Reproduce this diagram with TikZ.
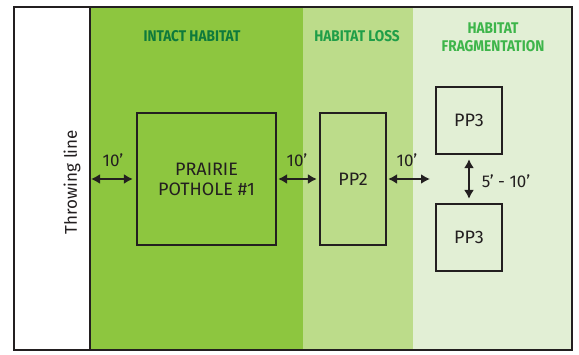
\documentclass[tikz,border=0pt]{standalone}
\usepackage{fontspec}
\setmainfont{Fira Sans}
\usetikzlibrary{arrows.meta}
\definecolor{intact}{HTML}{8DC63F}
\definecolor{loss}{HTML}{BCDC8A}
\definecolor{frag}{HTML}{E2EFD5}
\definecolor{tdark}{HTML}{0E7A3C}
\definecolor{tmid}{HTML}{1F9E48}
\definecolor{tlight}{HTML}{3DB54A}
\definecolor{ink}{HTML}{231F20}
\begin{document}
\begin{tikzpicture}[x=1pt,y=-1pt,
  pbox/.style={draw=ink,line width=2.2pt,inner sep=0pt,font=\fontsize{18}{20}\selectfont,text=ink,align=center},
  dim/.style={ink,line width=2pt,{Latex[length=9pt,width=10pt]}-{Latex[length=9pt,width=10pt]}},
  dimlab/.style={text=ink,font=\fontsize{17}{19}\selectfont,inner sep=1pt},
  title/.style={font=\bfseries\fontsize{15.5}{17}\selectfont,align=center,inner sep=0pt}]
\useasboundingbox (0,0) rectangle (579,354);
% bands
\fill[white] (14,7) rectangle (90,350);
\fill[intact] (90,7) rectangle (303,350);
\fill[loss] (303,7) rectangle (413,350);
\fill[frag] (413,7) rectangle (572,350);
\draw[ink,line width=1.8pt] (90,7) -- (90,350);
\draw[ink,line width=2.2pt] (14,7) rectangle (572,350);
% titles
\node[title,text=tdark] (t1) at (192,36) {\scalebox{0.88}[1]{INTACT HABITAT}};
\node[title,text=tmid] (t2) at (357,36) {\scalebox{0.88}[1]{HABITAT LOSS}};
\node[title,text=tlight] (t3) at (493,37) {\scalebox{0.88}[1]{HABITAT}\\[1pt]\scalebox{0.88}[1]{FRAGMENTATION}};
% throwing line
\node[rotate=90,text=ink,font=\fontsize{17}{19}\selectfont] (tl) at (72,182) {Throwing line};
\coordinate (tlx) at (91,179);
% boxes
\node[pbox,minimum width=139pt,minimum height=132pt] (pp1) at (206.5,179) {PRAIRIE\\POTHOLE \#1};
\node[pbox,minimum width=66pt,minimum height=132pt] (pp2) at (353,179) {PP2};
\node[pbox,minimum width=66pt,minimum height=67pt] (pp3a) at (469,120.5) {PP3};
\node[pbox,minimum width=66pt,minimum height=67pt] (pp3b) at (469,237.5) {PP3};
\coordinate (fr) at (430,179);
% dimension arrows
\draw[dim] (tlx) -- ([xshift=-3pt]pp1.west);
\draw[dim] ([xshift=1pt]pp1.east) -- ([xshift=-2pt]pp2.west);
\draw[dim] ([xshift=1pt]pp2.east) -- (fr);
\draw[dim] ([yshift=-4pt]pp3a.south) -- ([yshift=4pt]pp3b.north);
\node[dimlab] (l1) at (113,160) {10’};
\node[dimlab] (l2) at (297,160) {10’};
\node[dimlab] (l3) at (407,160) {10’};
\node[dimlab] (l4) at (506,181) {5’ - 10’};
\end{tikzpicture}
\end{document}
